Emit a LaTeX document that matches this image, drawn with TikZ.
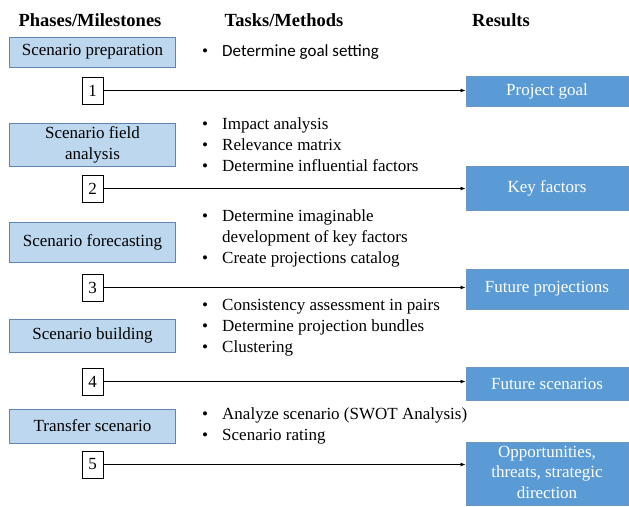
\documentclass[tikz,border=0pt]{standalone}
\usepackage{fontspec}
\setmainfont{Liberation Serif}
\newfontfamily\timesf{Liberation Serif}
\newfontfamily\calfont{Carlito}
\usetikzlibrary{arrows.meta}
\definecolor{lightbox}{RGB}{189,215,238}
\definecolor{lightedge}{RGB}{96,134,174}
\definecolor{darkbox}{RGB}{91,155,213}
\definecolor{darkedge}{RGB}{110,150,195}
\newcommand{\mlines}[1]{\begin{tabular}{@{}c@{}}#1\end{tabular}}
\tikzset{
  txt/.style={font=\timesf\fontsize{17}{20.5}\selectfont, inner sep=0pt},
  caltxt/.style={font=\calfont\fontsize{17}{20.5}\selectfont, inner sep=0pt},
  hdr/.style={font=\timesf\fontsize{18.5}{22}\selectfont\bfseries, inner sep=0pt, anchor=base},
  phase/.style={draw=lightedge, fill=lightbox, line width=0.9pt, minimum width=166pt, inner sep=0pt},
  result/.style={draw=darkedge, fill=darkbox, line width=0.9pt, minimum width=162pt, inner sep=0pt},
  label/.style={txt},
  wlabel/.style={txt, text=white},
  numbox/.style={txt, draw=black, line width=0.8pt, minimum width=21pt, minimum height=27pt},
  bul/.style={txt, anchor=base},
  item/.style={txt, anchor=base west},
  conn/.style={line width=0.8pt, -{Latex[length=5pt,width=4pt]}}
}
\begin{document}
\begin{tikzpicture}[x=1pt,y=-1pt]
\useasboundingbox (0,0) rectangle (629,506);
% headers
\node[hdr] (h1) at (90,26.5) {Phases/Milestones};
\node[hdr] (h2) at (284,26.5) {Tasks/Methods};
\node[hdr] (h3) at (501,26.5) {Results};
% phases
\node[phase, minimum height=30pt] (p1) at (92.5,52) {};
\node[phase, minimum height=43pt] (p2) at (92.5,144.5) {};
\node[phase, minimum height=40pt] (p3) at (92.5,242) {};
\node[phase, minimum height=33pt] (p4) at (92.5,335.5) {};
\node[phase, minimum height=34pt] (p5) at (92.5,426) {};
\node[label] (pl1) at (p1) {Scenario preparation};
\node[label] (pl2) at (p2) {\mlines{Scenario field\\[0.5pt]analysis}};
\node[label] (pl3) at (p3) {Scenario forecasting};
\node[label] (pl4) at (p4) {Scenario building};
\node[label] (pl5) at (p5) {Transfer scenario};
% number boxes
\node[numbox] (n1) at (92.5,90.5) {1};
\node[numbox] (n2) at (92.5,188.5) {2};
\node[numbox] (n3) at (92.5,287.5) {3};
\node[numbox] (n4) at (92.5,381.5) {4};
\node[numbox] (n5) at (92.5,464.5) {5};
% results
\node[result, minimum height=30pt] (r1) at (547,91) {};
\node[result, minimum height=44pt] (r2) at (547,188) {};
\node[result, minimum height=40pt] (r3) at (547,289) {};
\node[result, minimum height=33pt] (r4) at (547,383.5) {};
\node[result, minimum height=63pt] (r5) at (547,473.5) {};
\node[wlabel] (rl1) at (r1) {Project goal};
\node[wlabel] (rl2) at (r2) {Key factors};
\node[wlabel] (rl3) at (r3) {Future projections};
\node[wlabel] (rl4) at (r4) {Future scenarios};
\node[wlabel] (rl5) at (r5) {\mlines{Opportunities,\\threats, strategic\\direction}};
% connectors
\draw[conn] (n1.east) -- (n1.east -| r1.west);
\draw[conn] (n2.east) -- (n2.east -| r2.west);
\draw[conn] (n3.east) -- (n3.east -| r3.west);
\draw[conn] (n4.east) -- (n4.east -| r4.west);
\draw[conn] (n5.east) -- (n5.east -| r5.west);
% tasks
\node[bul] (b1) at (205,56) {•};
\node[caltxt, anchor=base west] (t1) at (222,56) {Determine goal setting};
\node[bul] (b2) at (205,129.5) {•};
\node[item] (t2) at (222,129.5) {Impact analysis};
\node[bul] (b3) at (205,150.5) {•};
\node[item] (t3) at (222,150.5) {Relevance matrix};
\node[bul] (b4) at (205,171.5) {•};
\node[item] (t4) at (222,171.5) {Determine influential factors};
\node[bul] (b5) at (205,221.5) {•};
\node[item] (t5) at (222,221.5) {Determine imaginable};
\node[item] (t5b) at (222,242.5) {development of key factors};
\node[bul] (b6) at (205,263.5) {•};
\node[item] (t6) at (222,263.5) {Create projections catalog};
\node[bul] (b7) at (205,310.5) {•};
\node[item] (t7) at (222,310.5) {Consistency assessment in pairs};
\node[bul] (b8) at (205,331.5) {•};
\node[item] (t8) at (222,331.5) {Determine projection bundles};
\node[bul] (b9) at (205,352.5) {•};
\node[item] (t9) at (222,352.5) {Clustering};
\node[bul] (b10) at (205,419) {•};
\node[item] (t10) at (222,419) {Analyze scenario (SWOT Analysis)};
\node[bul] (b11) at (205,440) {•};
\node[item] (t11) at (222,440) {Scenario rating};
\end{tikzpicture}
\end{document}
